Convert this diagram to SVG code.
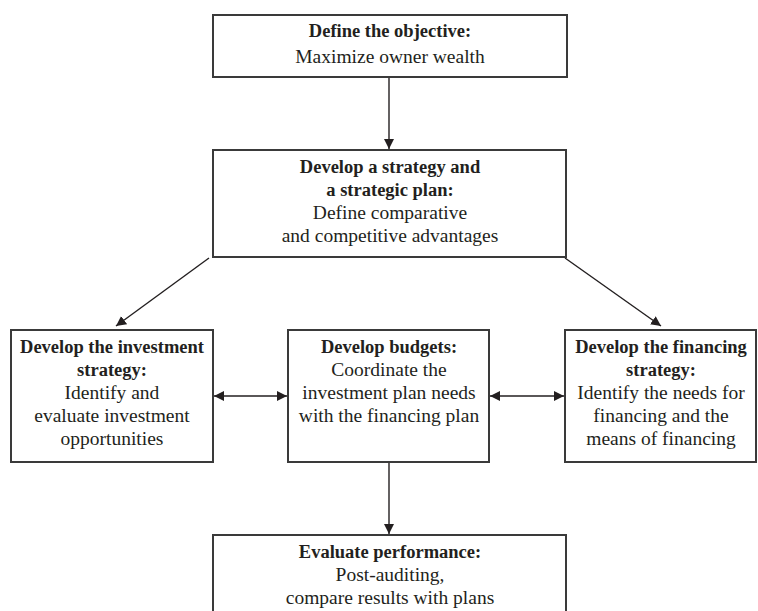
<svg xmlns="http://www.w3.org/2000/svg" width="758" height="611" viewBox="0 0 758 611">
<defs>
<marker id="ah" viewBox="0 0 10 10" refX="10" refY="5" markerWidth="10" markerHeight="10" markerUnits="userSpaceOnUse" orient="auto-start-reverse">
<path d="M0,0 L10,5 L0,10 z" fill="#231f20"/>
</marker>
<style>
.box{fill:#fff;stroke:#3a3a3a;stroke-width:2}
.t{font-family:"Liberation Serif","Times New Roman",serif;font-size:19.5px;fill:#231f20;text-anchor:middle}
.b{font-weight:bold;font-size:18.5px}
.c{stroke:#231f20;stroke-width:1.4;fill:none}
</style>
</defs>
<rect width="758" height="611" fill="#fff"/>
<g id="connectors">
<line class="c" x1="389" y1="77" x2="389" y2="149" marker-end="url(#ah)"/>
<line class="c" x1="209" y1="258" x2="116" y2="326" marker-end="url(#ah)"/>
<line class="c" x1="565" y1="258" x2="661" y2="326" marker-end="url(#ah)"/>
<line class="c" x1="214" y1="396" x2="287" y2="396" marker-start="url(#ah)" marker-end="url(#ah)"/>
<line class="c" x1="490" y1="396" x2="564" y2="396" marker-start="url(#ah)" marker-end="url(#ah)"/>
<line class="c" x1="389" y1="462" x2="389" y2="534" marker-end="url(#ah)"/>
</g>
<g id="objective">
<rect class="box" x="213" y="15" width="354" height="62"/>
<text class="t b" x="390" y="37">Define the objective:</text>
<text class="t" x="390" y="63">Maximize owner wealth</text>
</g>
<g id="strategy">
<rect class="box" x="213" y="150" width="353" height="107"/>
<text class="t b" x="390" y="173">Develop a strategy and</text>
<text class="t b" x="390" y="196">a strategic plan:</text>
<text class="t" x="390" y="219">Define comparative</text>
<text class="t" x="390" y="242">and competitive advantages</text>
</g>
<g id="investment">
<rect class="box" x="11" y="330" width="202" height="132"/>
<text class="t b" x="112" y="353">Develop the investment</text>
<text class="t b" x="112" y="376">strategy:</text>
<text class="t" x="112" y="399">Identify and</text>
<text class="t" x="112" y="422">evaluate investment</text>
<text class="t" x="112" y="445">opportunities</text>
</g>
<g id="budgets">
<rect class="box" x="288" y="330" width="201" height="132"/>
<text class="t b" x="389" y="353">Develop budgets:</text>
<text class="t" x="389" y="376">Coordinate the</text>
<text class="t" x="389" y="399">investment plan needs</text>
<text class="t" x="389" y="422">with the financing plan</text>
</g>
<g id="financing">
<rect class="box" x="565" y="330" width="191" height="132"/>
<text class="t b" x="661" y="353">Develop the financing</text>
<text class="t b" x="661" y="376">strategy:</text>
<text class="t" x="661" y="399">Identify the needs for</text>
<text class="t" x="661" y="422">financing and the</text>
<text class="t" x="661" y="445">means of financing</text>
</g>
<g id="evaluate">
<rect class="box" x="213" y="535" width="353" height="90"/>
<text class="t b" x="390" y="558">Evaluate performance:</text>
<text class="t" x="390" y="581">Post-auditing,</text>
<text class="t" x="390" y="604">compare results with plans</text>
</g>
</svg>
